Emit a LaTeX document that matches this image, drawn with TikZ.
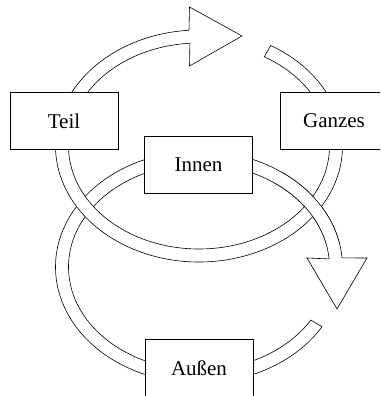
\documentclass[tikz,border=0pt]{standalone}
\usepackage{fontspec}
\setmainfont{Liberation Serif}
\tikzset{every node/.style={rectangle,draw,fill=white,line width=0.6pt,minimum width=108pt,minimum height=57pt,inner sep=0pt}}
\tikzset{ring/.style={draw,fill=white,line width=0.6pt,line join=miter}}
\tikzset{edge/.style={draw,line width=0.6pt}}

\begin{document}
\begin{tikzpicture}[x=1pt,y=1pt,font=\fontsize{21}{25}\selectfont]
  \useasboundingbox (0,0) rectangle (380,396);
  \clip (0,0) rectangle (380,396);
  % lower loop: Innen / Aussen
  \begin{scope}[shift={(199,129)}]
    \path[ring] (-31:143.5 and 116) arc[start angle=-31,end angle=-355.5,x radius=143.5,y radius=116]
      -- (168,9) -- (138,-42) -- (108,9)
      -- (4.5:130.5 and 103) arc[start angle=-355.5,end angle=-31,x radius=130.5,y radius=103] -- cycle;
  \end{scope}
  \node (innen) at (198.5,231) {Innen};
  \node[minimum height=58pt] (aussen) at (199,28) {Außen};
  % upper loop: Teil / Ganzes
  \begin{scope}[shift={(199,250)}]
    \path[ring] (60:143.5 and 116) arc[start angle=60,end angle=-266,x radius=143.5,y radius=116]
      -- (-9.5,139) -- (43,110) -- (-9.5,80)
      -- (94:130.5 and 103) arc[start angle=-266,end angle=60,x radius=130.5,y radius=103] -- cycle;
  \end{scope}
  \node (teil) at (64,275) {Teil};
  \node (ganzes) at (334,275) {Ganzes};
  % lower loop passes over the upper one on the right
  \begin{scope}[shift={(199,129)}]
    \fill[white] (55:143.5 and 116) arc[start angle=55,end angle=12,x radius=143.5,y radius=116]
      -- (12:130.5 and 103) arc[start angle=12,end angle=55,x radius=130.5,y radius=103] -- cycle;
    \path[edge] (55:143.5 and 116) arc[start angle=55,end angle=12,x radius=143.5,y radius=116];
    \path[edge] (55:130.5 and 103) arc[start angle=55,end angle=12,x radius=130.5,y radius=103];
  \end{scope}
\end{tikzpicture}
\end{document}
